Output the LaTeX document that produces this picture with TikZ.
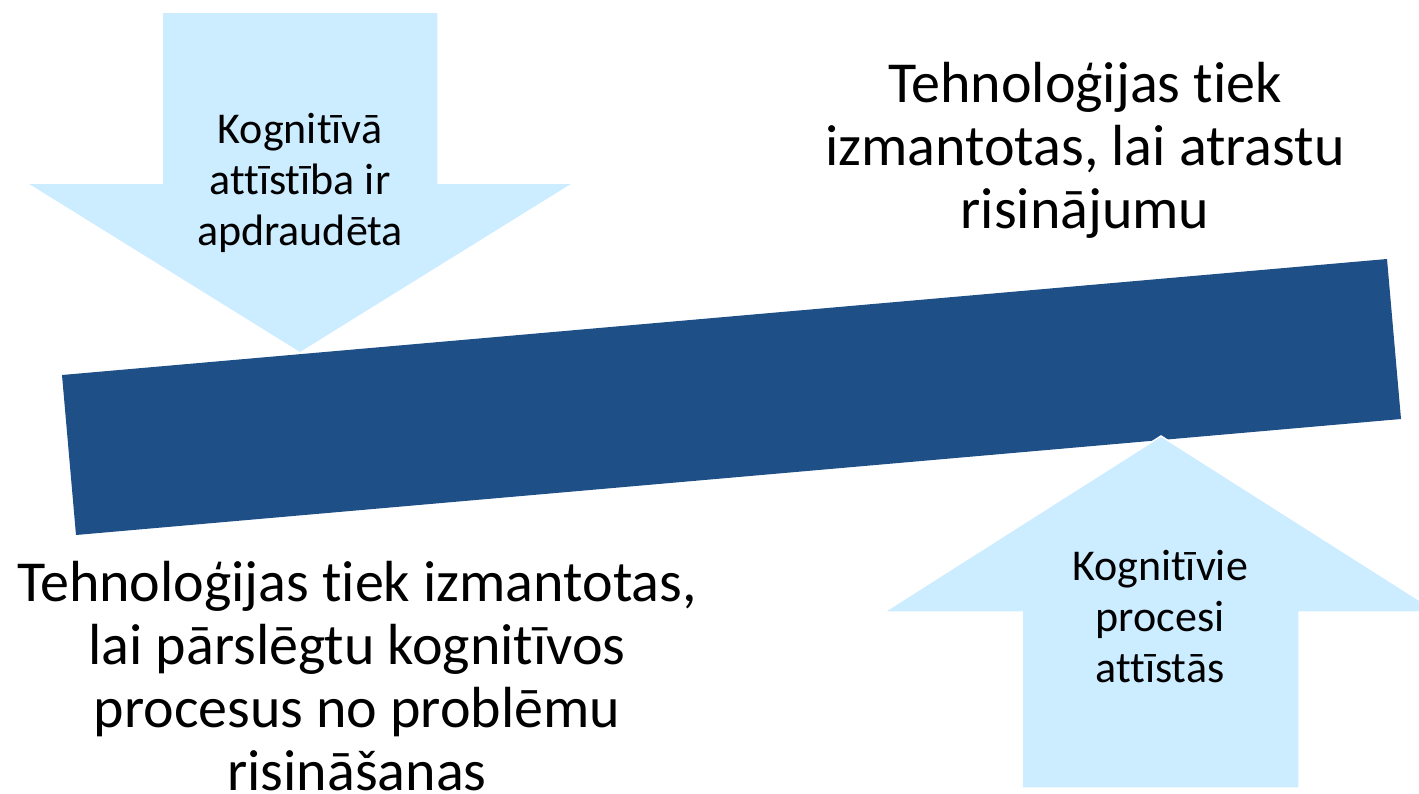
\documentclass[tikz,border=0pt]{standalone}
\usepackage{fontspec}
\setmainfont{Carlito}[Ligatures=NoCommon]
\definecolor{barblue}{RGB}{31,79,135}
\definecolor{lightarrow}{RGB}{204,236,255}
\begin{document}
\begin{tikzpicture}[x=1pt,y=-1pt,
  arrowshape/.style={fill=lightarrow,draw=white,line width=1.5pt,line join=miter},
  bigtext/.style={align=center,inner sep=0pt,font=\fontsize{58}{63}\selectfont},
  smalltext/.style={align=center,inner sep=0pt,font=\fontsize{44}{51}\selectfont}]
\useasboundingbox (0,0) rectangle (1419,793);
\begin{scope}
\clip (0,0) rectangle (1419,793);
% tilted bar
\fill[barblue] (62,375) -- (1387,259) -- (1401,419) -- (76,535) -- cycle;
% down arrow
\draw[arrowshape] (162,12) -- (438,12) -- (438,183) -- (574,183) -- (300,353)
  -- (26,183) -- (162,183) -- cycle;
% up arrow
\draw[arrowshape] (1161,436) -- (1438,612) -- (1299,612) -- (1299,788)
  -- (1022,788) -- (1022,612) -- (884,612) -- cycle;
\end{scope}
\node[smalltext] (downtxt) at (300,183) {Kognitīvā\\attīstība ir\\apdraudēta};
\node[smalltext] (uptxt) at (1160,617) {Kognitīvie\\procesi\\attīstās};
\node[bigtext] (toptxt) at (1085,150) {Tehnoloģijas tiek\\izmantotas, lai atrastu\\risinājumu};
\node[bigtext] (bottxt) at (357,676) {Tehnoloģijas tiek izmantotas,\\lai pārslēgtu kognitīvos\\procesus no problēmu\\risināšanas};
\end{tikzpicture}
\end{document}
